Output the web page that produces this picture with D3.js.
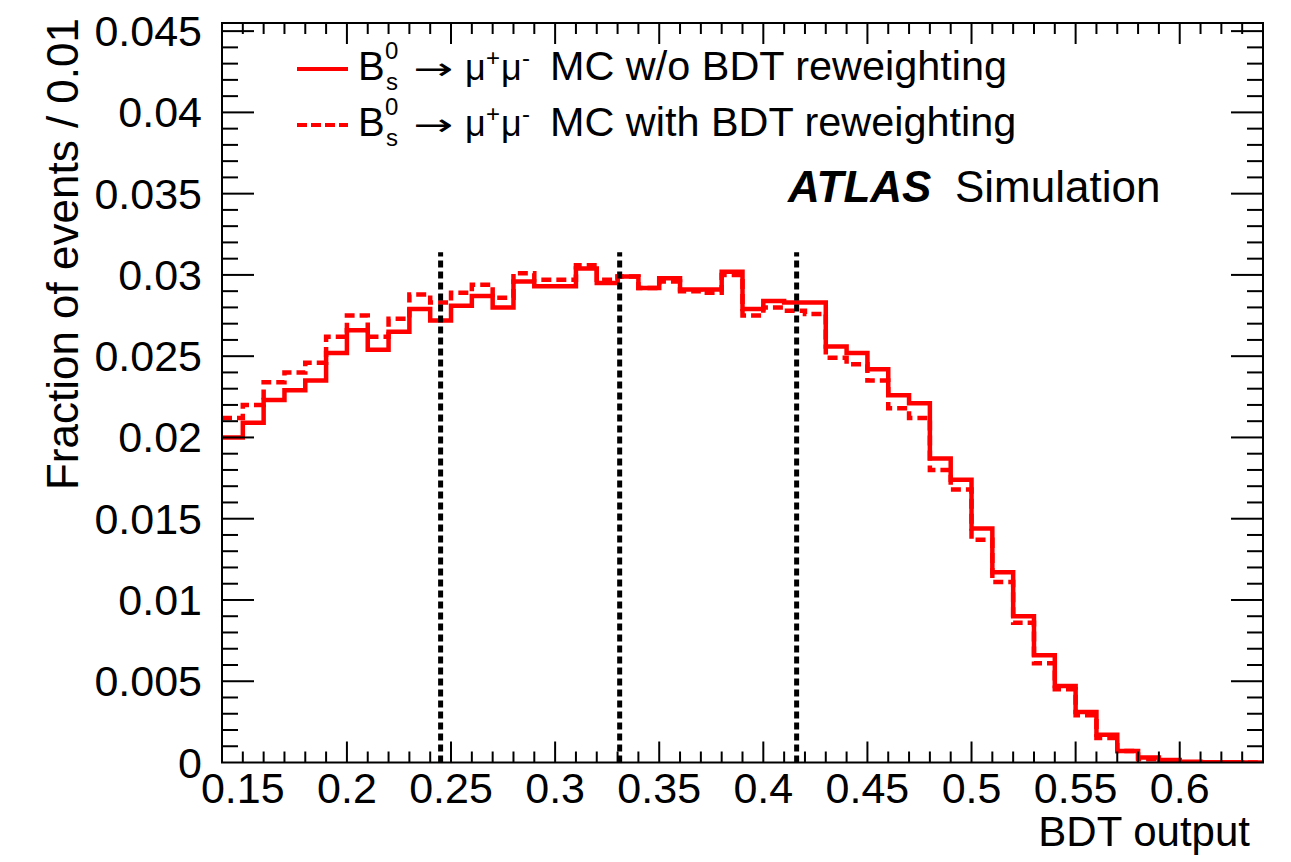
<!DOCTYPE html>
<html>
<head>
<meta charset="utf-8">
<script src="https://cdn.jsdelivr.net/npm/d3@7"></script>
<style>
  body { margin: 0; background: #fff; }
  svg text { font-family: "Liberation Sans", Arial, Helvetica, sans-serif; fill: #000; }
</style>
</head>
<body>
<svg width="1291" height="862"></svg>
<script>
// bin edges: 0.14 .. 0.64, width 0.01
var binLow = d3.range(50).map(function(i) { return +(0.14 + i * 0.01).toFixed(2); });

// B_s -> mu mu MC without BDT reweighting (solid)
var noReweight = [0.0200, 0.0209, 0.0223, 0.0229, 0.0235, 0.0252, 0.0266, 0.0254, 0.0265, 0.0279,
                  0.0272, 0.0281, 0.0287, 0.0280, 0.0296, 0.0293, 0.0293, 0.0304, 0.0295, 0.0299,
                  0.0292, 0.0298, 0.0291, 0.0291, 0.0302, 0.0279, 0.0284, 0.0283, 0.0283, 0.0256,
                  0.0252, 0.0242, 0.0226, 0.0221, 0.0187, 0.0174, 0.0144, 0.0117, 0.0090, 0.0066,
                  0.0047, 0.0031, 0.0017, 0.0007, 0.0003, 0.00015, 0.00005, 0.00002, 0.00001, 0.0];

// with BDT reweighting (dashed)
var withReweight = [0.0212, 0.0220, 0.0234, 0.0240, 0.0246, 0.0262, 0.0275, 0.0262, 0.0273, 0.0288,
                    0.0283, 0.0289, 0.0294, 0.0286, 0.0301, 0.0297, 0.0297, 0.0306, 0.0297, 0.0299,
                    0.0292, 0.0296, 0.0290, 0.0289, 0.0300, 0.0275, 0.0280, 0.0278, 0.0276, 0.0249,
                    0.0245, 0.0235, 0.0218, 0.0212, 0.0180, 0.0168, 0.0137, 0.0111, 0.0086, 0.0061,
                    0.0045, 0.0029, 0.0015, 0.0007, 0.0002, 0.0001, 0.0, 0.0, 0.0, 0.0];

// vertical dotted cut lines
var cutValues = [0.245, 0.331, 0.416];
var cutTop = 0.0314;

var xTickLabels = [0.15, 0.2, 0.25, 0.3, 0.35, 0.4, 0.45, 0.5, 0.55, 0.6];
var yTickLabels = [0, 0.005, 0.01, 0.015, 0.02, 0.025, 0.03, 0.035, 0.04, 0.045];

var legendLabels = ["MC w/o BDT reweighting", "MC with BDT reweighting"];

var svg = d3.select("svg");

var x = d3.scaleLinear().domain([0.14, 0.64]).range([222, 1263]);
var y = d3.scaleLinear().domain([0, 0.0455]).range([762.5, 23]);

svg.append("clipPath").attr("id", "clip")
    .append("rect")
    .attr("x", 222).attr("y", 23)
    .attr("width", 1041).attr("height", 739.5);

// histograms as steps
function stepPoints(vals) {
    var pts = vals.map(function(v, i) { return [binLow[i], v]; });
    pts.push([0.64, vals[vals.length - 1]]);
    return pts;
}
var step = d3.line()
    .x(function(d) { return x(d[0]); })
    .y(function(d) { return y(d[1]); })
    .curve(d3.curveStepAfter);

var plot = svg.append("g").attr("clip-path", "url(#clip)");

plot.append("path")
    .attr("d", step(stepPoints(withReweight)))
    .attr("fill", "none")
    .attr("stroke", "#ff0000")
    .attr("stroke-width", 4.5)
    .attr("stroke-dasharray", "10,5");

plot.append("path")
    .attr("d", step(stepPoints(noReweight)))
    .attr("fill", "none")
    .attr("stroke", "#ff0000")
    .attr("stroke-width", 4.5);

plot.selectAll("line.cut")
    .data(cutValues)
    .enter().append("line")
    .attr("class", "cut")
    .attr("x1", function(d) { return x(d); })
    .attr("x2", function(d) { return x(d); })
    .attr("y1", y(0))
    .attr("y2", y(cutTop))
    .attr("stroke", "#000")
    .attr("stroke-width", 5)
    .attr("stroke-dasharray", "7,4");

// frame
svg.append("rect")
    .attr("x", 222).attr("y", 23)
    .attr("width", 1041).attr("height", 739.5)
    .attr("fill", "none")
    .attr("stroke", "#000")
    .attr("stroke-width", 2);

// x ticks (bottom and top)
var xMinor = d3.range(1, 50).map(function(i) { return +(0.14 + i * 0.01).toFixed(2); });
var xt = svg.append("g");
xMinor.forEach(function(v) {
    var major = Math.abs(v * 20 - Math.round(v * 20)) < 1e-6 && v >= 0.2;
    var len = major ? 21 : 11;
    xt.append("line").attr("x1", x(v)).attr("x2", x(v))
        .attr("y1", y(0)).attr("y2", y(0) - len)
        .attr("stroke", "#000").attr("stroke-width", 2);
    xt.append("line").attr("x1", x(v)).attr("x2", x(v))
        .attr("y1", 23).attr("y2", 23 + len)
        .attr("stroke", "#000").attr("stroke-width", 2);
});

// y ticks (left and right)
var yMinor = d3.range(1, 46).map(function(i) { return i * 0.001; });
var yt = svg.append("g");
yMinor.forEach(function(v, i) {
    var major = (i + 1) % 5 === 0;
    var len = major ? 32 : 16;
    yt.append("line").attr("x1", 222).attr("x2", 222 + len)
        .attr("y1", y(v)).attr("y2", y(v))
        .attr("stroke", "#000").attr("stroke-width", 2);
    yt.append("line").attr("x1", 1263).attr("x2", 1263 - len)
        .attr("y1", y(v)).attr("y2", y(v))
        .attr("stroke", "#000").attr("stroke-width", 2);
});

// tick labels
svg.selectAll("text.xl")
    .data(xTickLabels)
    .enter().append("text")
    .attr("class", "xl")
    .attr("x", function(d) { return x(d); })
    .attr("y", 803)
    .attr("text-anchor", "middle")
    .attr("font-size", 43)
    .text(function(d) { return String(d); });

svg.selectAll("text.yl")
    .data(yTickLabels)
    .enter().append("text")
    .attr("class", "yl")
    .attr("x", 202)
    .attr("y", function(d) { return y(d) + 15; })
    .attr("text-anchor", "end")
    .attr("font-size", 43)
    .text(function(d) { return String(d); });

// axis titles
svg.append("text")
    .attr("x", 1250).attr("y", 846)
    .attr("text-anchor", "end")
    .attr("font-size", 42)
    .text("BDT output");

svg.append("text")
    .attr("transform", "translate(78,18) rotate(-90)")
    .attr("text-anchor", "end")
    .attr("font-size", 44)
    .text("Fraction of events / 0.01");

// legend
var rows = [80, 136];
legendLabels.forEach(function(label, i) {
    var by = rows[i];
    svg.append("line")
        .attr("x1", 297).attr("x2", 348)
        .attr("y1", by - 11).attr("y2", by - 11)
        .attr("stroke", "#ff0000")
        .attr("stroke-width", 4)
        .attr("stroke-dasharray", i === 1 ? "10,4" : null);
    svg.append("text").attr("x", 358).attr("y", by).attr("font-size", 40).text("B");
    svg.append("text").attr("x", 385).attr("y", by - 21).attr("font-size", 24).text("0");
    svg.append("text").attr("x", 386).attr("y", by + 10).attr("font-size", 24).text("s");
    svg.append("text").attr("x", 413).attr("y", by - 1)
        .attr("font-size", 30)
        .attr("textLength", 40).attr("lengthAdjust", "spacingAndGlyphs")
        .style("font-family", "'DejaVu Sans', sans-serif")
        .text("\u2192");
    svg.append("text").attr("x", 465).attr("y", by).attr("font-size", 36).text("\u03bc");
    svg.append("text").attr("x", 486).attr("y", by - 14).attr("font-size", 24).text("+");
    svg.append("text").attr("x", 501).attr("y", by).attr("font-size", 36).text("\u03bc");
    svg.append("text").attr("x", 522).attr("y", by - 14).attr("font-size", 24).text("-");
    svg.append("text").attr("x", 550).attr("y", by).attr("font-size", 41.4).text(label);
});

// ATLAS label
svg.append("text")
    .attr("x", 788).attr("y", 202)
    .attr("font-size", 44)
    .attr("font-weight", "bold")
    .attr("font-style", "italic")
    .text("ATLAS");
svg.append("text")
    .attr("x", 955).attr("y", 202)
    .attr("font-size", 44)
    .text("Simulation");
</script>
</body>
</html>
